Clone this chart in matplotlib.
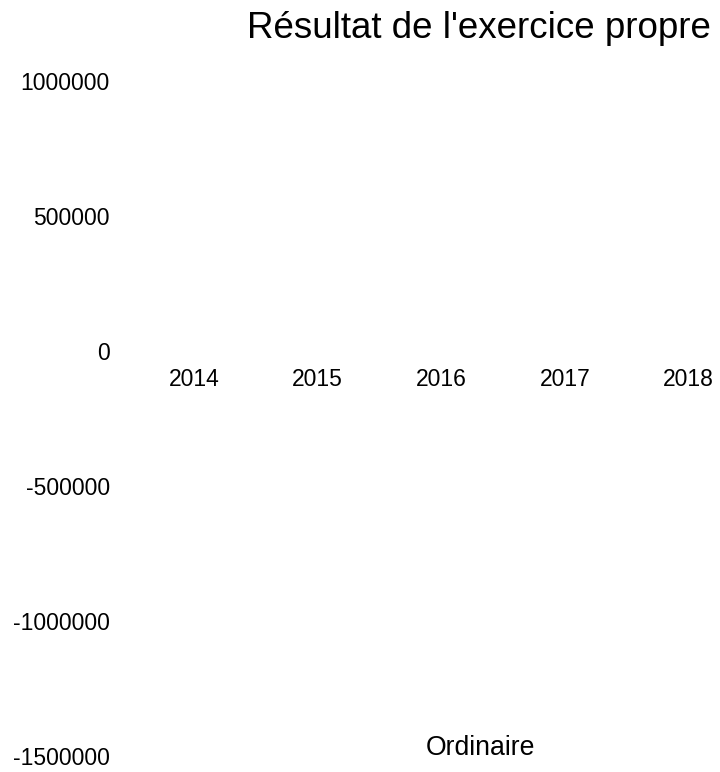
import matplotlib
matplotlib.use("Agg")
import matplotlib.pyplot as plt

plt.rcParams['font.family'] = ['Liberation Sans', 'DejaVu Sans']

title = "Résultat de l'exercice propre"
series_name = "Ordinaire"
years = ["2014", "2015", "2016", "2017", "2018"]
values = [0, 0, 0, 0, 0]  # no visible bars in the reference
yticks = [1000000, 500000, 0, -500000, -1000000, -1500000]

W, H = 720, 772
fig = plt.figure(figsize=(W / 100, H / 100), dpi=100)
fig.patch.set_facecolor('white')

left_px, right_px = 125, 720
top_px, bottom_px = 81.5, 756
ax = fig.add_axes([left_px / W, 1 - bottom_px / H,
                   (right_px - left_px) / W, (bottom_px - top_px) / H])

x = list(range(len(years)))
ax.bar(x, values, width=0.6, color='white', edgecolor='none')

ax.set_ylim(-1500000, 1000000)
px_per_unit = 123.6
x0 = -(194 - left_px) / px_per_unit
ax.set_xlim(x0, x0 + (right_px - left_px) / px_per_unit)

ax.set_yticks(yticks)
ax.set_yticklabels([str(v) for v in yticks])
ax.set_xticks(x)
ax.set_xticklabels(years)

for s in ax.spines.values():
    s.set_visible(False)
ax.spines['bottom'].set_position(('data', 0))

ax.tick_params(axis='y', length=0, pad=10.8, labelsize=16.5, colors='black')
ax.tick_params(axis='x', length=0, pad=12.2, labelsize=16.5, colors='black')
ax.set_facecolor('white')

fig.text(478.5 / W, 1 - 38 / H, title, ha='center', va='baseline',
         fontsize=26.5, color='black')
fig.text(480.5 / W, 1 - 755 / H, series_name, ha='center', va='baseline',
         fontsize=19.2, color='black')

fig.savefig("out.png", dpi=100, facecolor='white')
